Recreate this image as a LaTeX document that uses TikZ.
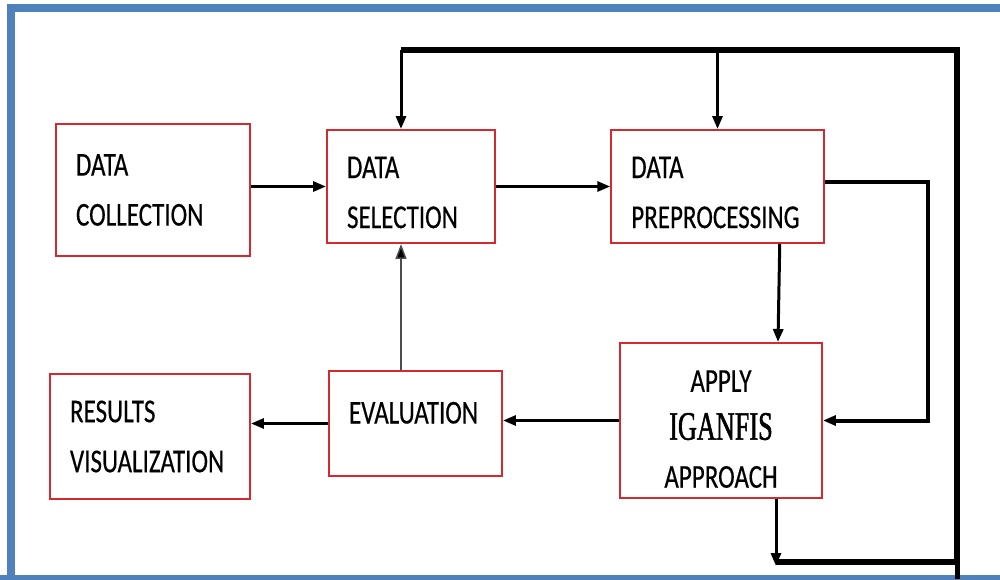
\documentclass[tikz,border=0pt]{standalone}
\usepackage{fontspec}
\setmainfont{Carlito}[FakeStretch=0.75,FakeBold=0.4]
\newfontfamily\igfont{Liberation Serif}[FakeStretch=0.65,FakeBold=1.2]
\usetikzlibrary{arrows.meta}
\definecolor{boxred}{HTML}{D42A2F}
\definecolor{framebl}{HTML}{4F81BD}
\begin{document}
\begin{tikzpicture}[x=0.02cm,y=-0.02cm,
		blk/.style={draw=boxred,line width=0.04cm,inner xsep=0.4cm,align=left,
					font=\fontsize{19}{28.45}\selectfont},
		arr/.style={line width=0.06cm,-{Triangle[length=0.26cm,width=0.2cm]}},
		thn/.style={line width=0.03cm,draw=black!70,-{Triangle[length=0.3cm,width=0.22cm,fill=black]}},
		fb/.style={line width=0.11cm,line join=miter}]
	\useasboundingbox (0,0) rectangle (1000,579);
	% frame
	\draw[framebl,line width=0.17cm] (1000,8) -- (11,8) -- (11,579);
	\draw[framebl,line width=0.17cm] (0,579) -- (1000,579);
	% blocks
	\node[blk,minimum width=3.88cm,minimum height=2.64cm,text width=3.08cm] (coll) at (153,190) {DATA\\COLLECTION};
	\node[blk,minimum width=3.36cm,minimum height=2.26cm,text width=2.56cm] (sel) at (411,186.5) {\rule{0pt}{19pt}DATA\\SELECTION};
	\node[blk,minimum width=4.18cm,minimum height=2.26cm,text width=3.45cm] (pre) at (717.5,186.5) {\rule{0pt}{19pt}DATA\\PREPROCESSING};
	\node[blk,minimum width=4.04cm,minimum height=3.1cm,align=center,
		font=\fontsize{19}{27.3}\selectfont] (apply) at (721,420.5)
		{\rule{0pt}{22pt}APPLY\\{\igfont\fontsize{23}{27.3}\selectfont IGANFIS}\\APPROACH};
	\node[blk,minimum width=3.46cm,minimum height=2.1cm,text width=2.66cm,
		text height=13pt,text depth=13pt] (eval) at (415.5,423.5) {EVALUATION};
	\node[blk,minimum width=4.0cm,minimum height=2.5cm,text width=3.2cm] (res) at (150,436.5) {RESULTS\\VISUALIZATION};
	% forward flow
	\draw[arr] (sel.west -| coll.east) -- (sel.west);
	\draw[arr] (sel.east) -- (pre.west);
	\draw[arr] ([xshift=-0.9cm]pre.south east) -- ([xshift=-0.9cm]apply.north east);
	\draw[line width=0.08cm,-{Triangle[length=0.26cm,width=0.2cm]}] ([yshift=0.1cm]pre.east) -- ++(103,0) |- (apply.east);
	\draw[arr] (apply.west) -- (apply.west -| eval.east);
	\draw[arr] (eval.west) -- (eval.west -| res.east);
	\draw[thn] ([xshift=-0.2cm]sel.south |- eval.north) -- ([xshift=-0.2cm]sel.south);
	% feedback loop
	\draw[arr] ([xshift=-0.94cm]apply.south east) -- ++(0,67) coordinate (fbB);
	\coordinate (fbR) at (957,50);
	\draw[fb] ([yshift=0.08cm]fbB) -- ([yshift=0.08cm]fbB -| fbR) -- (fbR) -- ([xshift=-0.2cm]sel.north |- fbR);
	\draw[line width=0.1cm] (fbR) -- (957,579);
	\draw[arr] ([xshift=-0.2cm]sel.north |- fbR) -- ([xshift=-0.2cm]sel.north);
	\draw[arr] (pre.north |- fbR) -- (pre.north);
\end{tikzpicture}
\end{document}
